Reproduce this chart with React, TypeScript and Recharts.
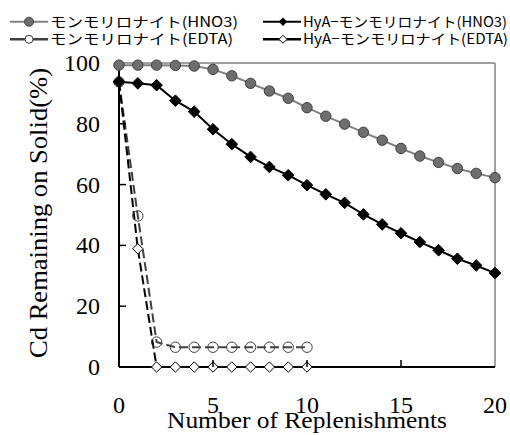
import React from 'react';
import { LineChart, Line, XAxis, YAxis, ReferenceLine, Label } from 'recharts';

const replenishments = [0, 1, 2, 3, 4, 5, 6, 7, 8, 9, 10, 11, 12, 13, 14, 15, 16, 17, 18, 19, 20];
const montHNO3 = [99.3, 99.3, 99.3, 99.2, 99.0, 97.9, 95.8, 93.3, 90.8, 88.4, 85.3, 82.5, 79.9, 77.2, 74.6, 71.9, 69.4, 67.3, 65.3, 63.7, 62.3];
const hyaHNO3 = [93.8, 93.3, 92.7, 87.6, 84.0, 78.2, 73.3, 69.1, 65.8, 63.1, 59.8, 56.8, 54.0, 50.2, 46.9, 44.0, 41.1, 38.4, 35.6, 33.4, 30.9];
const montEDTA = [93.8, 49.7, 8.2, 6.5, 6.5, 6.5, 6.5, 6.5, 6.5, 6.5, 6.5];
const hyaEDTA = [93.8, 38.9, 0, 0, 0, 0, 0, 0, 0, 0, 0];

const xTicks = [0, 5, 10, 15, 20];
const yTicks = [0, 20, 40, 60, 80, 100];

const legendLabels = [
  'モンモリロナイト(HNO3)',
  'モンモリロナイト(EDTA)',
  'HyA−モンモリロナイト(HNO3)',
  'HyA−モンモリロナイト(EDTA)',
];
const xTitle = 'Number of Replenishments';
const yTitle = 'Cd Remaining on Solid(%)';

const data = replenishments.map((x, i) => ({
  x,
  a: montHNO3[i],
  b: hyaHNO3[i],
  c: i < montEDTA.length ? montEDTA[i] : null,
  d: i < hyaEDTA.length ? hyaEDTA[i] : null,
}));

const SERIF = 'Liberation Serif';
const JP = "'Noto Sans CJK JP', 'Noto Sans', sans-serif";

const GRAY_FILL = '#6e6e6e';
const GRAY_LINE = '#808080';
const DARK = '#404040';

const diamond = (cx: number, cy: number, h: number) =>
  `${cx},${cy - h} ${cx + h},${cy} ${cx},${cy + h} ${cx - h},${cy}`;

const GrayDot = (p: any) => {
  if (p.cy == null || p.value == null) return <g key={p.key} />;
  return <circle key={p.key} cx={p.cx} cy={p.cy} r={5.2} fill={GRAY_FILL} stroke={DARK} strokeWidth={1} />;
};
const BlackDiamond = (p: any) => {
  if (p.cy == null || p.value == null) return <g key={p.key} />;
  return <polygon key={p.key} points={diamond(p.cx, p.cy, 5.8)} fill="#000" stroke="#000" strokeWidth={1} />;
};
const OpenCircle = (p: any) => {
  if (p.cy == null || p.value == null) return <g key={p.key} />;
  return <circle key={p.key} cx={p.cx} cy={p.cy} r={5.2} fill="none" stroke={DARK} strokeWidth={1} />;
};
const OpenDiamond = (p: any) => {
  if (p.cy == null || p.value == null) return <g key={p.key} />;
  return <polygon key={p.key} points={diamond(p.cx, p.cy, 5.2)} fill="#fff" stroke="#000" strokeWidth={1} />;
};

const XTick = (props: any) => {
  const { x, y, payload } = props;
  const v = payload.value;
  return (
    <g>
      {v > 0 && v < 20 && <line x1={x} x2={x} y1={y} y2={y - 7} stroke="#000" strokeWidth={1.5} />}
      <text x={x} y={y + 46} textAnchor="middle" fontFamily={SERIF} fontSize={24} fill="#000">
        {v}
      </text>
    </g>
  );
};

const YTick = (props: any) => {
  const { x, y, payload } = props;
  const v = payload.value;
  return (
    <g>
      {v > 0 && v < 100 && <line x1={x} x2={x + 7} y1={y} y2={y} stroke="#000" strokeWidth={1.5} />}
      <text x={x - 19} y={y + 8} textAnchor="end" fontFamily={SERIF} fontSize={24} fill="#000">
        {v}
      </text>
    </g>
  );
};

const YTitle = () => (
  <text
    x={47}
    y={213}
    transform="rotate(-90 47 213)"
    textAnchor="middle"
    textLength={290}
    lengthAdjust="spacingAndGlyphs"
    fontFamily={SERIF}
    fontSize={26}
    fill="#000"
  >
    {yTitle}
  </text>
);

const XTitle = (props: any) => {
  const vb = props.viewBox || { x: 119, width: 376 };
  const cx = vb.x + vb.width / 2;
  return (
    <text
      x={cx}
      y={428}
      textAnchor="middle"
      textLength={280}
      lengthAdjust="spacingAndGlyphs"
      fontFamily={SERIF}
      fontSize={24}
      fill="#000"
    >
      {xTitle}
    </text>
  );
};

const Legend = () => (
  <svg width={510} height={60} style={{ position: 'absolute', left: 0, top: 0 }}>
    <line x1={10} x2={48} y1={21.7} y2={21.7} stroke={GRAY_LINE} strokeWidth={2} />
    <circle cx={29} cy={21.7} r={4.5} fill={GRAY_FILL} stroke={DARK} strokeWidth={1} />
    <text x={50} y={26.5} fontFamily={JP} fontSize={14} textLength={188} lengthAdjust="spacingAndGlyphs" fill="#000">
      {legendLabels[0]}
    </text>
    <line x1={10} x2={48} y1={39.3} y2={39.3} stroke={DARK} strokeWidth={2.5} />
    <circle cx={29} cy={39.3} r={4} fill="#fff" stroke={DARK} strokeWidth={1} />
    <text x={50} y={44.1} fontFamily={JP} fontSize={14} textLength={183} lengthAdjust="spacingAndGlyphs" fill="#000">
      {legendLabels[1]}
    </text>
    <line x1={263} x2={301} y1={21.7} y2={21.7} stroke="#000" strokeWidth={2} />
    <polygon points={diamond(283, 21.7, 4.2)} fill="#000" />
    <text x={303} y={26.5} fontFamily={JP} fontSize={14} textLength={204} lengthAdjust="spacingAndGlyphs" fill="#000">
      {legendLabels[2]}
    </text>
    <line x1={263} x2={301} y1={39.3} y2={39.3} stroke="#000" strokeWidth={2.5} />
    <polygon points={diamond(283, 39.3, 4)} fill="#fff" stroke="#000" strokeWidth={1} />
    <text x={303} y={44.1} fontFamily={JP} fontSize={14} textLength={205} lengthAdjust="spacingAndGlyphs" fill="#000">
      {legendLabels[3]}
    </text>
  </svg>
);

export default function App() {
  return (
    <div style={{ position: 'absolute', left: 0, top: 0, width: 510, height: 435, background: '#fff' }}>
      <LineChart width={510} height={435} data={data} margin={{ top: 63, right: 15, bottom: 0, left: 0 }}>
        <XAxis
          dataKey="x"
          type="number"
          domain={[0, 20]}
          ticks={xTicks}
          interval={0}
          height={68}
          tickSize={0}
          tickMargin={0}
          tickLine={false}
          axisLine={{ stroke: '#000', strokeWidth: 2 }}
          tick={<XTick />}
        >
          <Label content={<XTitle />} />
        </XAxis>
        <YAxis
          type="number"
          domain={[0, 100]}
          ticks={yTicks}
          interval={0}
          width={119}
          tickSize={0}
          tickMargin={0}
          tickLine={false}
          axisLine={{ stroke: '#000', strokeWidth: 2 }}
          tick={<YTick />}
        >
          <Label content={<YTitle />} />
        </YAxis>
        <ReferenceLine y={100} stroke={GRAY_LINE} strokeWidth={1.5} />
        <ReferenceLine x={20} stroke={GRAY_LINE} strokeWidth={1.5} />
        <Line dataKey="c" stroke={DARK} strokeWidth={2} strokeDasharray="9 4" dot={OpenCircle} activeDot={false} isAnimationActive={false} />
        <Line dataKey="d" stroke="#000" strokeWidth={2} strokeDasharray="9 4" dot={OpenDiamond} activeDot={false} isAnimationActive={false} />
        <Line dataKey="a" stroke={GRAY_LINE} strokeWidth={2} dot={GrayDot} activeDot={false} isAnimationActive={false} />
        <Line dataKey="b" stroke="#000" strokeWidth={2} dot={BlackDiamond} activeDot={false} isAnimationActive={false} />
      </LineChart>
      <Legend />
    </div>
  );
}
